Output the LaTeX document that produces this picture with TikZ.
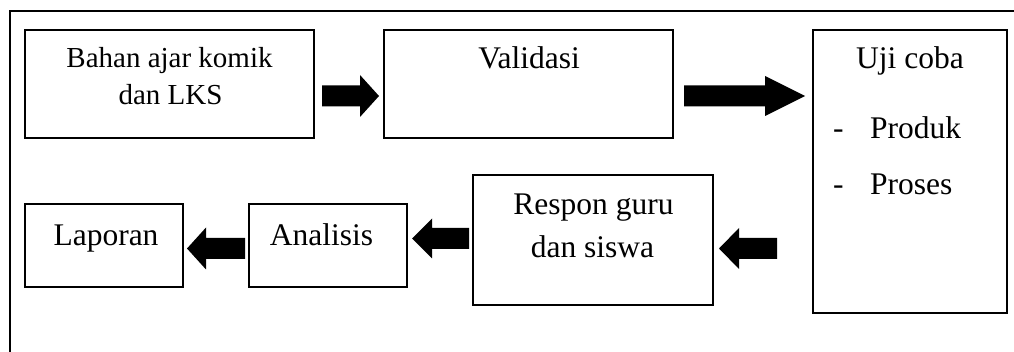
\documentclass[tikz,border=0pt]{standalone}
\usepackage{fontspec}
\setmainfont{Liberation Serif}
\usetikzlibrary{calc}
\newcommand\blockarrow[5]{%
  \fill let \p1=(#1), \p2=(#2), \n1={sign(\x2-\x1)} in
    (\x1,\y1+#3) -- ({\x2-\n1*#5},\y1+#3) -- ({\x2-\n1*#5},\y1+#4) -- (\x2,\y1)
    -- ({\x2-\n1*#5},\y1-#4) -- ({\x2-\n1*#5},\y1-#3) -- (\x1,\y1-#3) -- cycle;}
\begin{document}
\begin{tikzpicture}[x=1pt,y=-1pt,
  stepbox/.style={draw, line width=1.4pt, inner sep=0pt, outer sep=0pt, anchor=north west},
  txt/.style={anchor=base, inner sep=0pt, font=\fontsize{31.5}{38}\selectfont},
  smalltxt/.style={anchor=base, inner sep=0pt, font=\fontsize{29}{35}\selectfont},
  listtxt/.style={anchor=base west, inner sep=0pt, font=\fontsize{31.5}{38}\selectfont}]
\useasboundingbox (0,0) rectangle (1014,352);
% outer frame (cut by the page at right and bottom)
\draw[line width=1.4pt] (1030,11) -- (10,11) -- (10,370);
% boxes
\node[stepbox, minimum width=289pt, minimum height=108pt] (bahan) at (25,30) {};
\node[stepbox, minimum width=289pt, minimum height=108pt] (valid) at (384,30) {};
\node[stepbox, minimum width=194pt, minimum height=283pt] (uji) at (813,30) {};
\node[stepbox, minimum width=240pt, minimum height=130pt] (respon) at (473,175) {};
\node[stepbox, minimum width=158pt, minimum height=83pt] (analisis) at (249,204) {};
\node[stepbox, minimum width=158pt, minimum height=83pt] (laporan) at (25,204) {};
% texts
\node[smalltxt] (bahan1) at (169.5,68) {Bahan ajar komik};
\node[smalltxt] (bahan2) at (170.5,105) {dan LKS};
\node[txt] (validt) at (529,69) {Validasi};
\node[txt] (ujit) at (910,69) {Uji coba};
\node[listtxt] (ujip1) at (833,139) {-\hspace{26.5pt}Produk};
\node[listtxt] (ujip2) at (833,195) {-\hspace{26.5pt}Proses};
\node[txt] (respon1) at (593.5,215) {Respon guru};
\node[txt] (respon2) at (592.5,258) {dan siswa};
\node[txt] (analisist) at (321.5,246) {Analisis};
\node[txt] (laporant) at (106,246) {Laporan};
% arrow end points
\coordinate (a1s) at (322,96);   \coordinate (a1e) at (379,96);
\coordinate (a2s) at (684,96);   \coordinate (a2e) at (805,96);
\coordinate (a3s) at (777,248.5); \coordinate (a3e) at (719,248.5);
\coordinate (a4s) at (469,238.5); \coordinate (a4e) at (412,238.5);
\coordinate (a5s) at (245,248.5); \coordinate (a5e) at (187,248.5);
% block arrows
\blockarrow{a1s}{a1e}{10.5pt}{21pt}{19pt}
\blockarrow{a2s}{a2e}{10.5pt}{20pt}{40pt}
\blockarrow{a3s}{a3e}{10.5pt}{20.5pt}{20pt}
\blockarrow{a4s}{a4e}{10.5pt}{20pt}{20pt}
\blockarrow{a5s}{a5e}{10.5pt}{21pt}{19pt}
\end{tikzpicture}
\end{document}
